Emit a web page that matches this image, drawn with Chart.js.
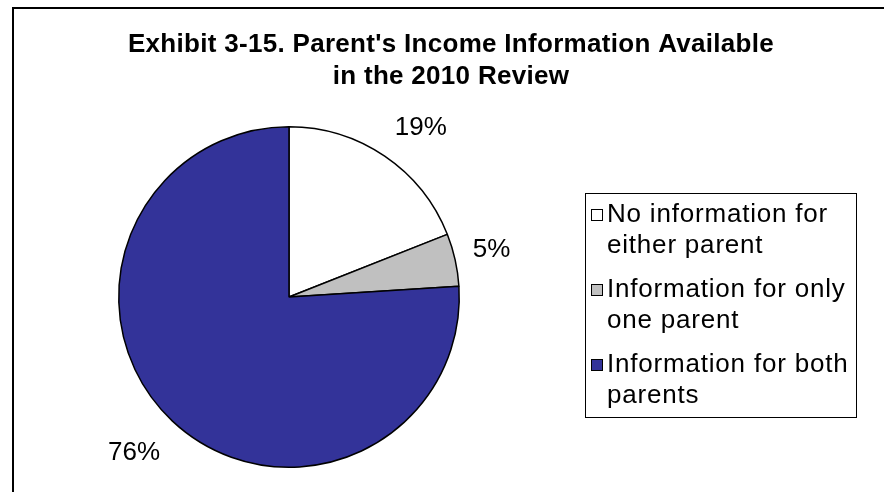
<!DOCTYPE html>
<html>
<head>
<meta charset="utf-8">
<script src="https://cdn.jsdelivr.net/npm/chart.js@4.4.1/dist/chart.umd.min.js"></script>
<style>
  html, body { margin: 0; padding: 0; background: #fff; overflow: hidden; }
  #wrap { width: 884px; height: 492px; }
</style>
</head>
<body>
<div id="wrap"><canvas id="incomePie" width="884" height="492"></canvas></div>
<script>
// 부모 소득 정보 보유 비율 (%)
const categories = ['No information for either parent', 'Information for only one parent', 'Information for both parents'];
const legendLines = [['No information for', 'either parent'], ['Information for only', 'one parent'], ['Information for both', 'parents']];
const shares = [19, 5, 76];
const sliceColors = ['#FFFFFF', '#C0C0C0', '#333399'];
const titleLines = ["Exhibit 3-15. Parent's Income Information Available", 'in the 2010 Review'];

const FONT = '"Liberation Sans", Arial, sans-serif';

// 바깥 테두리 + 제목
const framePlugin = {
  id: 'frame',
  beforeDraw(chart) {
    const ctx = chart.ctx;
    ctx.save();
    ctx.fillStyle = '#fff';
    ctx.fillRect(0, 0, chart.width, chart.height);
    ctx.strokeStyle = '#000';
    ctx.lineWidth = 2;
    ctx.beginPath();
    ctx.moveTo(13, chart.height + 2);
    ctx.lineTo(13, 8);
    ctx.lineTo(chart.width + 2, 8);
    ctx.stroke();

    ctx.fillStyle = '#000';
    ctx.font = 'bold 26px ' + FONT;
    ctx.letterSpacing = '0.3px';
    ctx.textAlign = 'center';
    ctx.textBaseline = 'alphabetic';
    titleLines.forEach(function(line, i) {
      ctx.fillText(line, 451, 52 + i * 32);
    });
    ctx.restore();
  }
};

// 조각 바깥쪽 퍼센트 라벨 (라벨 상자 모서리를 조각 중앙 방향에 붙임)
const pctLabelPlugin = {
  id: 'pctLabels',
  afterDatasetsDraw(chart) {
    const ctx = chart.ctx;
    const meta = chart.getDatasetMeta(0);
    ctx.save();
    ctx.font = '26px ' + FONT;
    ctx.fillStyle = '#000';
    ctx.textAlign = 'center';
    ctx.textBaseline = 'middle';
    meta.data.forEach(function(arc, i) {
      const p = arc.getProps(['x', 'y', 'startAngle', 'endAngle', 'outerRadius'], true);
      const mid = (p.startAngle + p.endAngle) / 2;
      const text = shares[i] + '%';
      const w = ctx.measureText(text).width;
      const c = Math.cos(mid), s = Math.sin(mid);
      const dist = p.outerRadius + 18;
      // 위쪽 라벨은 글자 아랫변, 아래쪽 라벨은 윗변(여백 포함)을 기준점에 맞춤
      const halfH = s < 0 ? 13 : 19;
      const x = p.x + c * dist + Math.sign(c) * w / 2;
      const y = p.y + s * dist + Math.sign(s) * halfH * Math.min(1, Math.abs(s) * 2);
      ctx.fillText(text, x, y);
    });
    ctx.restore();
  }
};

// 오른쪽 범례 박스
const boxLegendPlugin = {
  id: 'boxLegend',
  afterDraw(chart) {
    const ctx = chart.ctx;
    const left = 585, top = 193, right = 856, bottom = 417;
    ctx.save();
    ctx.strokeStyle = '#000';
    ctx.lineWidth = 1;
    ctx.strokeRect(left + 0.5, top + 0.5, right - left, bottom - top);

    ctx.font = '26px ' + FONT;
    ctx.letterSpacing = '0.8px';
    ctx.textAlign = 'left';
    ctx.textBaseline = 'middle';
    legendLines.forEach(function(lines, i) {
      const y0 = 215 + i * 75;
      ctx.fillStyle = sliceColors[i];
      ctx.fillRect(591.5, y0 - 5.5, 11, 11);
      ctx.strokeStyle = '#000';
      ctx.strokeRect(591.5, y0 - 5.5, 11, 11);
      ctx.fillStyle = '#000';
      lines.forEach(function(line, j) {
        ctx.fillText(line, 607, y0 + j * 31);
      });
    });
    ctx.restore();
  }
};

new Chart(document.getElementById('incomePie').getContext('2d'), {
  type: 'pie',
  data: {
    labels: categories,
    datasets: [{
      data: shares,
      backgroundColor: sliceColors,
      borderColor: '#000',
      borderWidth: 1.5
    }]
  },
  options: {
    responsive: false,
    animation: false,
    rotation: 0,
    layout: {
      padding: { left: 118, right: 424, top: 126, bottom: 24 }
    },
    plugins: {
      legend: { display: false },
      tooltip: { enabled: false }
    }
  },
  plugins: [framePlugin, pctLabelPlugin, boxLegendPlugin]
});
</script>
</body>
</html>
